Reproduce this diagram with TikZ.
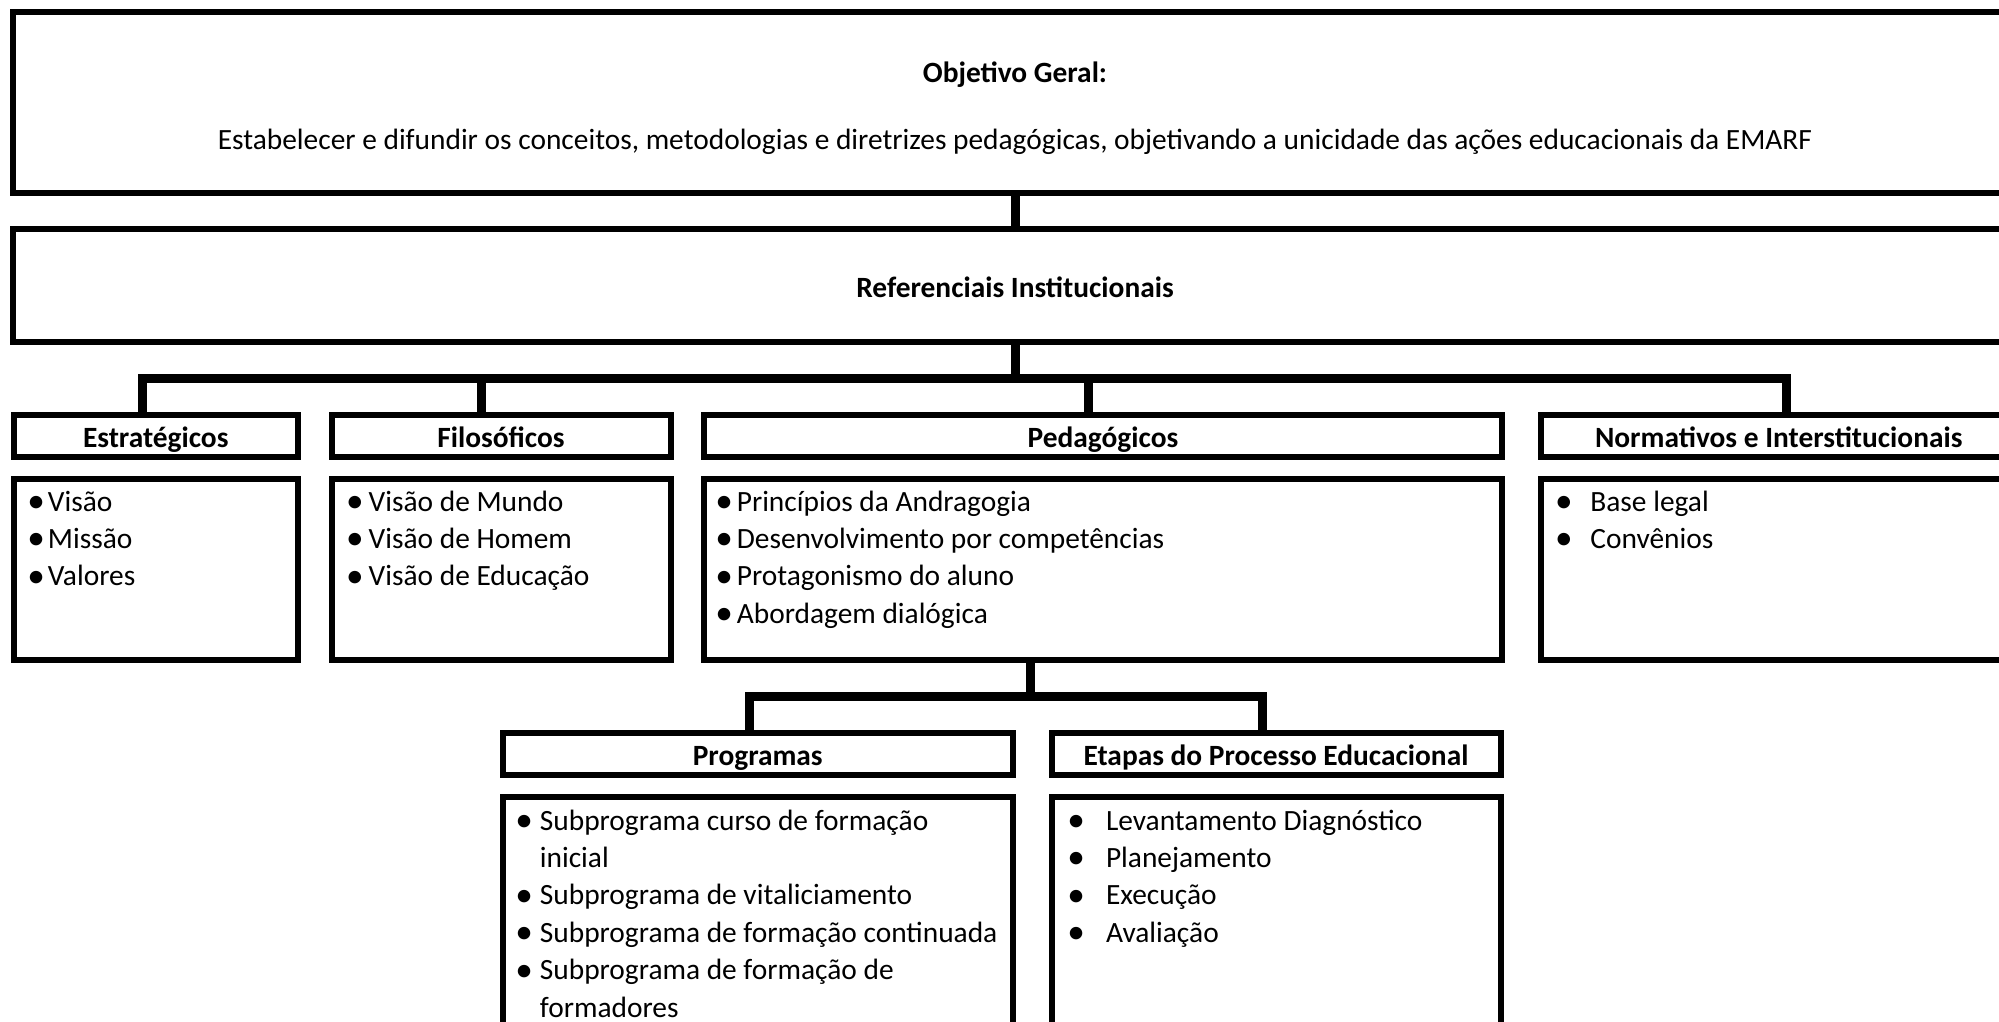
\documentclass[tikz,border=0pt]{standalone}
\usepackage{graphicx}
\usepackage{fontspec}
\setmainfont{Carlito}
\newcommand\lbul[1]{\makebox[#1][l]{\raisebox{-0.05em}{\scalebox{1.2}{\textbullet}}}}
\begin{document}
\begin{tikzpicture}[x=0.5pt,y=-0.5pt,
  box/.style={draw, line width=3pt, rectangle, inner sep=0pt, outer sep=0pt},
  hdr/.style={box, font=\fontsize{14.7}{18.7}\selectfont\bfseries, text height=12pt, text depth=0pt, minimum height=21pt},
  cbox/.style={box, minimum height=90.5pt},
  conn/.style={line width=4.5pt, line join=miter},
  lst/.style={anchor=base west, inner sep=0pt, font=\fontsize{14.7}{18.7}\selectfont},
  txt/.style={anchor=base, inner sep=0pt, font=\fontsize{14.7}{18.7}\selectfont}]
\useasboundingbox (0,0) rectangle (1999,1022);
\clip (0,0) rectangle (1999,1022);
% top boxes
\node[box, minimum width=1002pt, minimum height=90.5pt] (obj) at (1015,102.5) {};
\node[txt, font=\fontsize{14.7}{18.7}\selectfont\bfseries] (objT) at (1015,83) {Objetivo Geral:};
\node[txt] (objD) at (1015,149.5) {Estabelecer e difundir os conceitos, metodologias e diretrizes pedagógicas, objetivando a unicidade das ações educacionais da EMARF};
\node[box, minimum width=1002pt, minimum height=56.25pt, font=\fontsize{14.7}{18.7}\selectfont\bfseries, text height=12pt, text depth=0pt] (ref) at (1015,285.25) {Referenciais Institucionais};
% headers
\node[hdr, minimum width=142.25pt] (estH) at (155.75,435.5) {Estratégicos};
\node[hdr, minimum width=169.5pt] (filH) at (501,435.5) {Filosóficos};
\node[hdr, minimum width=399pt] (pedH) at (1103,435.5) {Pedagógicos};
\node[hdr, minimum width=238.25pt] (normH) at (1778.75,435.5) {Normativos e Interstitucionais};
% content boxes
\node[cbox, minimum width=142.25pt] (estC) at (155.75,569.5) {};
\node[cbox, minimum width=169.5pt] (filC) at (501,569.5) {};
\node[cbox, minimum width=399pt] (pedC) at (1103,569.5) {};
\node[cbox, minimum width=238.25pt] (normC) at (1778.75,569.5) {};
% lower level
\node[hdr, minimum width=254.75pt] (progH) at (757.75,753.5) {Programas};
\node[hdr, minimum width=224.5pt] (etaH) at (1276,753.5) {Etapas do Processo Educacional};
\node[box, minimum width=254.75pt, minimum height=121.5pt] (progC) at (757.75,918.5) {};
\node[box, minimum width=224.5pt, minimum height=121.5pt] (etaC) at (1276,918.5) {};
% lists
\node[lst] (estL) at (27,511) {\begin{tabular}[t]{@{}l@{}}\lbul{10.25pt}Visão\\\lbul{10.25pt}Missão\\\lbul{10.25pt}Valores\end{tabular}};
\node[lst] (filL) at (345.7,511) {\begin{tabular}[t]{@{}l@{}}\lbul{11.3pt}Visão de Mundo\\\lbul{11.3pt}Visão de Homem\\\lbul{11.3pt}Visão de Educação\end{tabular}};
\node[lst] (pedL) at (715,511) {\begin{tabular}[t]{@{}l@{}}\lbul{10.7pt}Princípios da Andragogia\\\lbul{10.7pt}Desenvolvimento por competências\\\lbul{10.7pt}Protagonismo do aluno\\\lbul{10.7pt}Abordagem dialógica\end{tabular}};
\node[lst] (normL) at (1554.7,511) {\begin{tabular}[t]{@{}l@{}}\lbul{17.65pt}Base legal\\\lbul{17.65pt}Convênios\end{tabular}};
\node[lst] (progL) at (515,830) {\begin{tabular}[t]{@{}l@{}}\lbul{12.25pt}Subprograma curso de formação\\\hspace{12.25pt}inicial\\\lbul{12.25pt}Subprograma de vitaliciamento\\\lbul{12.25pt}Subprograma de formação continuada\\\lbul{12.25pt}Subprograma de formação de\\\hspace{12.25pt}formadores\end{tabular}};
\node[lst] (etaL) at (1067,830) {\begin{tabular}[t]{@{}l@{}}\lbul{19.3pt}Levantamento Diagnóstico\\\lbul{19.3pt}Planejamento\\\lbul{19.3pt}Execução\\\lbul{19.3pt}Avaliação\end{tabular}};
% connectors
\coordinate (bL) at (142,378.5);
\coordinate (bR) at (1786.5,378.5);
\coordinate (bF) at (481.5,378.5);
\coordinate (bP) at (1088,378.5);
\draw[conn] (obj.south) -- (ref.north);
\draw[conn] (ref.south) -- (ref.south |- bL);
\draw[conn] (estH.north -| bL) -- (bL) -- (bR) -- (normH.north -| bR);
\draw[conn] (bF) -- (filH.north -| bF);
\draw[conn] (bP) -- (pedH.north -| bP);
\coordinate (cL) at (749,696);
\coordinate (cR) at (1262,696);
\coordinate (cM) at (1030,696);
\draw[conn] (pedC.south -| cM) -- (cM);
\draw[conn] (progH.north -| cL) -- (cL) -- (cR) -- (etaH.north -| cR);
\end{tikzpicture}
\end{document}
